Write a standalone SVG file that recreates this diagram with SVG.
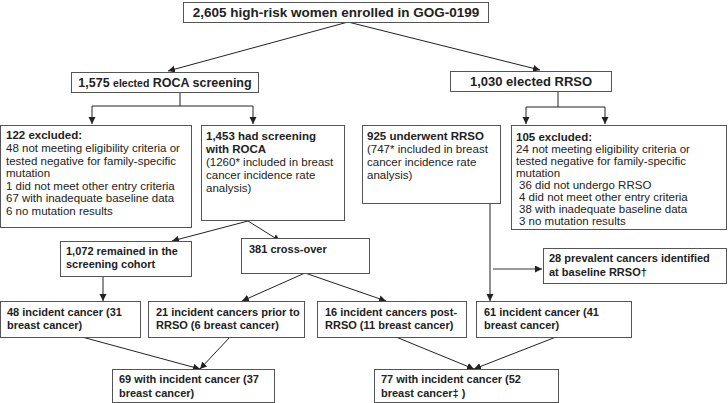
<svg xmlns="http://www.w3.org/2000/svg" width="728" height="403" viewBox="0 0 728 403">
<style>
.box{fill:#fff;stroke:#555;stroke-width:1}
.b{font-family:"Liberation Sans",Arial,sans-serif;font-weight:bold;font-size:11.5px;fill:#222}
.s{font-family:"Liberation Sans",Arial,sans-serif;font-weight:bold;font-size:11px;fill:#222}
.r{font-family:"Liberation Sans",Arial,sans-serif;font-size:11.5px;fill:#222}
.t{font-family:"Liberation Sans",Arial,sans-serif;font-weight:bold;font-size:13.5px;fill:#222}
.c{fill:none;stroke:#222;stroke-width:1}
.g{fill:none;stroke:#777;stroke-width:1.5}
</style>
<defs>
<marker id="ah" markerUnits="userSpaceOnUse" markerWidth="8" markerHeight="8" refX="7" refY="3.5" orient="auto">
<path d="M0,0 L7,3.5 L0,7 Z" fill="#222"/>
</marker>
</defs>
<g id="connectors">
<line class="c" x1="348" y1="22" x2="168" y2="71" marker-end="url(#ah)"/>
<line class="c" x1="348" y1="22" x2="540" y2="70" marker-end="url(#ah)"/>
<path class="c" d="M180,92 V106 M92,106 H253"/>
<line class="c" x1="92" y1="106" x2="92" y2="124" marker-end="url(#ah)"/>
<line class="c" x1="253" y1="106" x2="253" y2="124" marker-end="url(#ah)"/>
<path class="c" d="M558,91 V107 M526,107 H605"/>
<line class="c" x1="526" y1="107" x2="526" y2="124" marker-end="url(#ah)"/>
<line class="c" x1="605" y1="107" x2="605" y2="124" marker-end="url(#ah)"/>
<line class="c" x1="248" y1="221" x2="172" y2="241" marker-end="url(#ah)"/>
<line class="c" x1="248" y1="221" x2="280" y2="241" marker-end="url(#ah)"/>
<line class="c" x1="103" y1="276" x2="103" y2="301" marker-end="url(#ah)"/>
<line class="c" x1="305" y1="273" x2="242" y2="301" marker-end="url(#ah)"/>
<line class="c" x1="305" y1="273" x2="386" y2="301" marker-end="url(#ah)"/>
<line class="c" x1="490" y1="203" x2="490" y2="301" marker-end="url(#ah)"/>
<line class="g" x1="493" y1="269" x2="542" y2="269" marker-end="url(#ah)"/>
<line class="c" x1="82" y1="337" x2="200" y2="369" marker-end="url(#ah)"/>
<line class="c" x1="230" y1="337" x2="200" y2="369" marker-end="url(#ah)"/>
<line class="c" x1="396" y1="337" x2="474" y2="369" marker-end="url(#ah)"/>
<line class="c" x1="556" y1="337" x2="474" y2="369" marker-end="url(#ah)"/>
</g>
<g id="enrolled">
<rect class="box" x="183.5" y="2.5" width="305" height="20"/>
<text class="t" x="336" y="17" text-anchor="middle">2,605 high-risk women enrolled in GOG-0199</text>
</g>
<g id="roca">
<rect class="box" x="71.5" y="72.5" width="187" height="20"/>
<text class="b" x="165" y="87" text-anchor="middle" style="font-size:12.5px">1,575 <tspan style="font-size:10.5px">elected</tspan> ROCA screening</text>
</g>
<g id="rrso">
<rect class="box" x="450.5" y="71.5" width="161" height="20"/>
<text class="b" x="531" y="86" text-anchor="middle" style="font-size:13px">1,030 elected RRSO</text>
</g>
<g id="excl122">
<rect class="box" x="0.5" y="125.5" width="191" height="102"/>
<text class="b" x="6" y="139">122 excluded:</text>
<text class="r" x="6" y="152">48 not meeting eligibility criteria or</text>
<text class="r" x="6" y="164.5">tested negative for family-specific</text>
<text class="r" x="6" y="177">mutation</text>
<text class="r" x="6" y="189.5">1 did not meet other entry criteria</text>
<text class="r" x="6" y="202">67 with inadequate baseline data</text>
<text class="r" x="6" y="214.5">6 no mutation results</text>
</g>
<g id="screened">
<rect class="box" x="201.5" y="125.5" width="143" height="95"/>
<text class="b" x="206" y="140">1,453 had screening</text>
<text class="b" x="206" y="153">with ROCA</text>
<text class="r" x="206" y="166">(1260* included in breast</text>
<text class="r" x="206" y="179">cancer incidence rate</text>
<text class="r" x="206" y="192">analysis)</text>
</g>
<g id="underwent">
<rect class="box" x="362.5" y="125.5" width="138" height="78"/>
<text class="b" x="367" y="140">925 underwent RRSO</text>
<text class="r" x="367" y="153">(747* included in breast</text>
<text class="r" x="367" y="166">cancer incidence rate</text>
<text class="r" x="367" y="179">analysis)</text>
</g>
<g id="excl105">
<rect class="box" x="511.5" y="125.5" width="215" height="104"/>
<text class="b" x="516" y="141">105 excluded:</text>
<text class="r" x="516" y="153">24 not meeting eligibility criteria or</text>
<text class="r" x="516" y="165">tested negative for family-specific</text>
<text class="r" x="516" y="177">mutation</text>
<text class="r" x="519" y="189">36 did not undergo RRSO</text>
<text class="r" x="519" y="201">4 did not meet other entry criteria</text>
<text class="r" x="519" y="213">38 with inadequate baseline data</text>
<text class="r" x="519" y="225">3 no mutation results</text>
</g>
<g id="remained">
<rect class="box" x="60.5" y="241.5" width="131" height="35"/>
<text class="s" x="66" y="255">1,072 remained in the</text>
<text class="s" x="66" y="268">screening cohort</text>
</g>
<g id="crossover">
<rect class="box" x="241.5" y="238.5" width="128" height="35"/>
<text class="s" x="249" y="253">381 cross-over</text>
</g>
<g id="prevalent">
<rect class="box" x="543.5" y="248.5" width="183" height="35"/>
<text class="s" x="549" y="262">28 prevalent cancers identified</text>
<text class="s" x="549" y="276">at baseline RRSO†</text>
</g>
<g id="inc48">
<rect class="box" x="0.5" y="301.5" width="140" height="36"/>
<text class="s" x="7" y="316">48 incident cancer (31</text>
<text class="s" x="7" y="329">breast cancer)</text>
</g>
<g id="inc21">
<rect class="box" x="148.5" y="301.5" width="156" height="36"/>
<text class="s" x="156" y="316">21 incident cancers prior to</text>
<text class="s" x="156" y="329">RRSO (6 breast cancer)</text>
</g>
<g id="inc16">
<rect class="box" x="317.5" y="301.5" width="149" height="36"/>
<text class="s" x="325" y="316">16 incident cancers post-</text>
<text class="s" x="325" y="329">RRSO (11 breast cancer)</text>
</g>
<g id="inc61">
<rect class="box" x="476.5" y="301.5" width="155" height="36"/>
<text class="s" x="484" y="316">61 incident cancer (41</text>
<text class="s" x="484" y="329">breast cancer)</text>
</g>
<g id="total69">
<rect class="box" x="112.5" y="369.5" width="162" height="33"/>
<text class="s" x="119" y="383">69 with incident cancer (37</text>
<text class="s" x="119" y="397">breast cancer)</text>
</g>
<g id="total77">
<rect class="box" x="374.5" y="369.5" width="184" height="33"/>
<text class="s" x="381" y="383">77 with incident cancer (52</text>
<text class="s" x="381" y="397">breast cancer‡ )</text>
</g>
</svg>
